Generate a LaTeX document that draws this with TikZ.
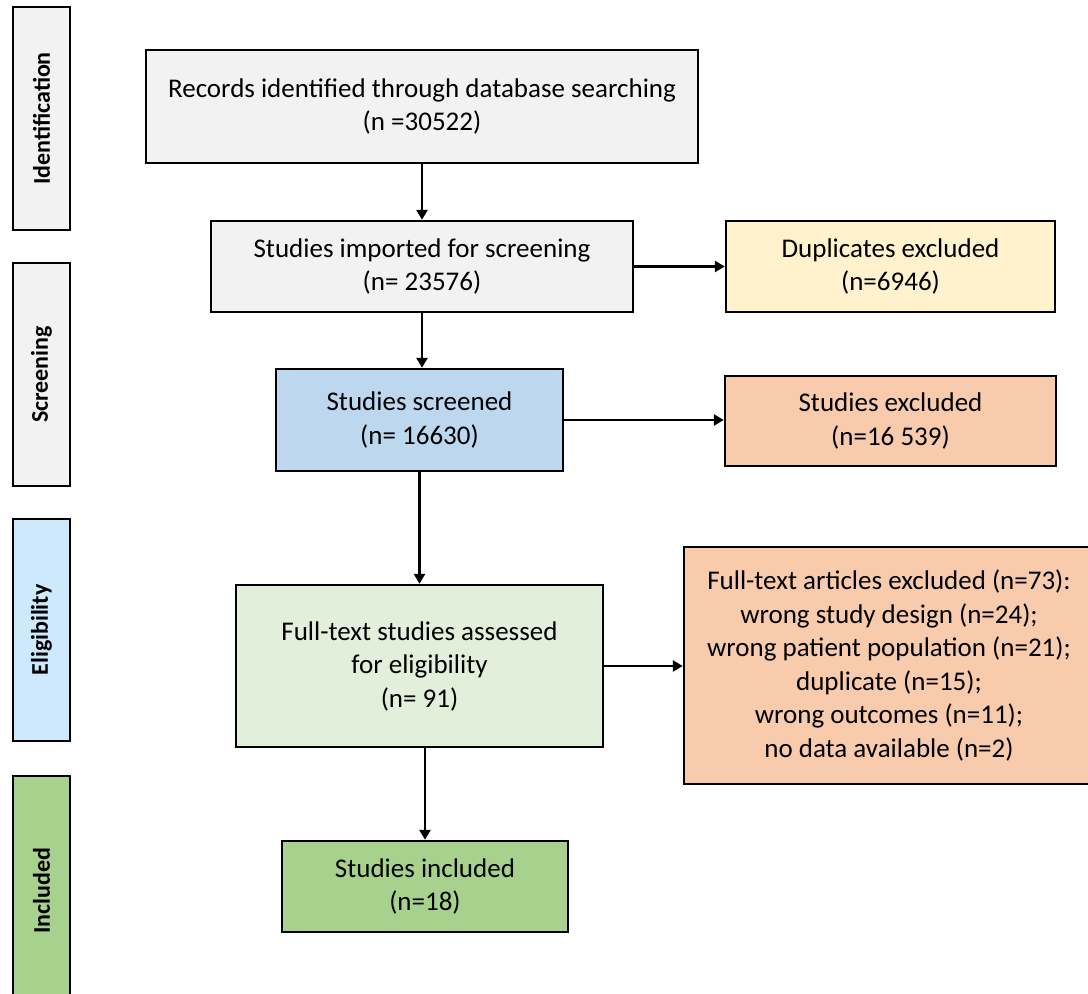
\documentclass[tikz,border=0pt]{standalone}
\usepackage{fontspec}
\setmainfont{Carlito}
\usetikzlibrary{arrows.meta}

\definecolor{boxgray}{HTML}{F2F2F2}
\definecolor{dupyellow}{HTML}{FFF2CC}
\definecolor{screenblue}{HTML}{BDD7EE}
\definecolor{exclorange}{HTML}{F8CBAD}
\definecolor{eliggreen}{HTML}{E2EFDA}
\definecolor{inclgreen}{HTML}{A9D18E}
\definecolor{eligblue}{HTML}{CDE9FB}

\begin{document}
\begin{tikzpicture}[x=1pt,y=-1pt,
    box/.style={draw=black, line width=2.4pt, align=center, inner sep=0pt,
        font=\fontsize{27}{33.5}\selectfont},
    phase/.style={draw=black, line width=2.4pt, inner sep=0pt, rotate=90,
        font=\fontsize{24}{28}\selectfont\bfseries},
    arr/.style={line width=2.6pt, -{Triangle[length=10pt,width=11pt]}}]
    \useasboundingbox (0,0) rectangle (1088,994);

    % phases on the left
    \node[phase, fill=boxgray, minimum width=223pt, minimum height=57pt] (ident) at (41.5,118.5) {Identification};
    \node[phase, fill=boxgray, minimum width=223pt, minimum height=57pt] (screen) at (41.5,374.5) {Screening};
    \node[phase, fill=eligblue, minimum width=222pt, minimum height=57pt] (elig) at (41.5,630) {Eligibility};
    \node[phase, fill=inclgreen, minimum width=230pt, minimum height=57pt] (incl) at (41.5,891) {Included};

    % main column
    \node[box, fill=boxgray, minimum width=552pt, minimum height=113pt] (records) at (422,106.5)
        {Records identified through database searching\\(n =30522)};
    \node[box, fill=boxgray, minimum width=422pt, minimum height=91pt] (imported) at (422,266.5)
        {Studies imported for screening\\(n= 23576)};
    \node[box, fill=screenblue, minimum width=287pt, minimum height=102pt] (screened) at (419.5,420)
        {Studies screened\\(n= 16630)};
    \node[box, fill=eliggreen, minimum width=367pt, minimum height=162pt] (fulltext) at (419.5,666)
        {Full-text studies assessed\\for eligibility\\(n= 91)};
    \node[box, fill=inclgreen, minimum width=286pt, minimum height=91pt] (included) at (425,886.5)
        {Studies included\\(n=18)};

    % exclusions
    \node[box, fill=dupyellow, minimum width=329pt, minimum height=91pt] (dupl) at (890.5,266.5)
        {Duplicates excluded\\(n=6946)};
    \node[box, fill=exclorange, minimum width=331pt, minimum height=90pt] (excl) at (890.5,421)
        {Studies excluded\\(n=16 539)};
    \node[box, fill=exclorange, minimum width=410pt, minimum height=237pt] (ftexcl) at (889,665.5)
        {Full-text articles excluded (n=73):\\wrong study design (n=24);\\wrong patient population (n=21);\\duplicate (n=15);\\wrong outcomes (n=11);\\no data available (n=2)};

    \draw[arr] (records) -- (imported);
    \draw[arr] (imported) -- (screened.north -| imported);
    \draw[arr] (screened) -- (fulltext);
    \draw[arr] (fulltext.south -| included) -- (included);

    \draw[arr] (imported) -- (dupl);
    \draw[arr] (screened) -- (excl.west |- screened);
    \draw[arr] (fulltext) -- (ftexcl.west |- fulltext);
\end{tikzpicture}
\end{document}
